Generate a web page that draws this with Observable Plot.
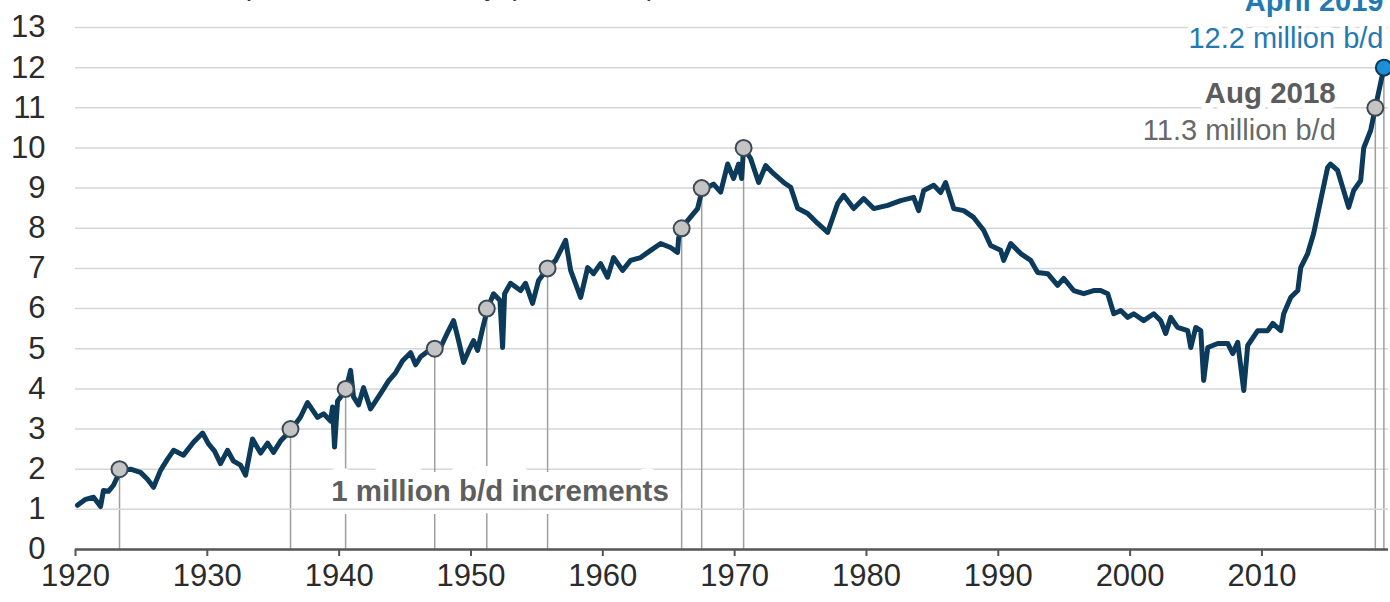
<!DOCTYPE html>
<html>
<head>
<meta charset="utf-8">
<script src="https://cdn.jsdelivr.net/npm/d3@7"></script>
<script src="https://cdn.jsdelivr.net/npm/@observablehq/plot@0.6"></script>
<style>
  html, body { margin: 0; padding: 0; background: #fff; }
  #chart { width: 1390px; height: 602px; overflow: hidden; }
  #chart svg { overflow: visible; }
</style>
</head>
<body>
<div id="chart"></div>
<script>
// ---- Data ----
const years = [
  1920.15, 1920.76, 1921.37, 1921.9, 1922.12, 1922.5, 1922.88, 1923.41, 1924.17, 1924.93,
  1925.46, 1925.92, 1926.45, 1926.98, 1927.44, 1928.19, 1928.95, 1929.64, 1930.09, 1930.55,
  1931.0, 1931.53, 1931.99, 1932.52, 1932.9, 1933.43, 1934.04, 1934.57, 1935.02, 1935.55,
  1936.31, 1937.07, 1937.6, 1938.36, 1938.82, 1939.35, 1939.5, 1939.65, 1939.88, 1940.49,
  1940.87, 1941.09, 1941.47, 1941.85, 1942.38, 1943.14, 1943.75, 1944.28, 1944.81, 1945.42,
  1945.8, 1946.18, 1946.78, 1947.31, 1947.69, 1948.22, 1948.68, 1949.06, 1949.44, 1949.82,
  1950.2, 1950.5, 1950.88, 1951.26, 1951.71, 1952.2, 1952.4, 1952.55, 1953.0, 1953.76,
  1954.14, 1954.67, 1955.13, 1955.81, 1956.42, 1957.18, 1957.56, 1958.32, 1958.85, 1959.3,
  1959.83, 1960.36, 1960.82, 1961.5, 1962.11, 1962.87, 1963.63, 1964.39, 1965.14, 1965.67,
  1965.75, 1965.98, 1966.43, 1967.19, 1967.57, 1967.95, 1968.4, 1968.94, 1969.47, 1969.92,
  1970.3, 1970.53, 1970.68, 1971.21, 1971.82, 1972.35, 1972.96, 1973.72, 1974.25, 1974.78,
  1975.54, 1976.3, 1977.06, 1977.82, 1978.27, 1979.03, 1979.79, 1980.55, 1981.61, 1982.59,
  1983.58, 1983.96, 1984.34, 1985.1, 1985.63, 1986.0, 1986.62, 1987.38, 1988.13, 1988.89,
  1989.42, 1990.18, 1990.41, 1990.94, 1991.7, 1992.46, 1992.99, 1993.75, 1994.5, 1994.96,
  1995.72, 1996.48, 1997.24, 1997.77, 1998.3, 1998.76, 1999.29, 1999.82, 2000.27, 2001.03,
  2001.79, 2002.32, 2002.7, 2003.08, 2003.6, 2004.37, 2004.6, 2004.98, 2005.36, 2005.58,
  2005.89, 2006.65, 2007.41, 2007.79, 2008.16, 2008.62, 2008.92, 2009.68, 2010.44, 2010.82,
  2011.43, 2011.65, 2012.19, 2012.72, 2012.94, 2013.47, 2013.92, 2014.45, 2014.98, 2015.2,
  2015.74, 2016.58, 2016.96, 2017.49, 2017.72, 2018.25, 2018.6, 2019.25
];
const production = [
  1.10, 1.25, 1.30, 1.07, 1.47, 1.45, 1.60, 1.97, 2.00, 1.92,
  1.75, 1.55, 1.97, 2.25, 2.47, 2.35, 2.67, 2.90, 2.63, 2.45,
  2.14, 2.47, 2.20, 2.10, 1.85, 2.75, 2.40, 2.65, 2.42, 2.70,
  2.96, 3.30, 3.66, 3.29, 3.38, 3.20, 3.55, 2.55, 3.70, 3.96,
  4.46, 3.80, 3.60, 4.03, 3.50, 3.88, 4.20, 4.40, 4.70, 4.90,
  4.60, 4.80, 4.95, 5.00, 5.03, 5.40, 5.70, 5.20, 4.66, 4.95,
  5.20, 4.96, 5.50, 6.00, 6.37, 6.20, 5.03, 6.37, 6.63, 6.45,
  6.63, 6.13, 6.70, 7.00, 7.20, 7.70, 6.95, 6.28, 7.02, 6.87,
  7.12, 6.78, 7.27, 6.95, 7.20, 7.27, 7.45, 7.62, 7.52, 7.40,
  7.75, 8.00, 8.19, 8.49, 9.00, 9.02, 9.10, 8.90, 9.60, 9.24,
  9.60, 9.24, 10.00, 9.74, 9.14, 9.56, 9.36, 9.14, 9.02, 8.50,
  8.37, 8.12, 7.90, 8.62, 8.82, 8.49, 8.74, 8.49, 8.57, 8.69,
  8.77, 8.44, 8.94, 9.07, 8.89, 9.14, 8.49, 8.44, 8.27, 7.95,
  7.57, 7.45, 7.20, 7.62, 7.37, 7.20, 6.90, 6.87, 6.58, 6.75,
  6.45, 6.37, 6.45, 6.45, 6.37, 5.87, 5.95, 5.78, 5.87, 5.70,
  5.87, 5.70, 5.38, 5.78, 5.53, 5.45, 5.03, 5.53, 5.45, 4.21,
  5.03, 5.13, 5.13, 4.88, 5.16, 3.96, 5.08, 5.45, 5.45, 5.63,
  5.45, 5.87, 6.28, 6.45, 7.02, 7.37, 7.87, 8.69, 9.51, 9.60,
  9.44, 8.52, 8.94, 9.19, 10.00, 10.44, 11.00, 12.00
];
// 1 million b/d milestones
const milestoneYears = [1923.34, 1936.31, 1940.49, 1947.25, 1951.2, 1955.81, 1965.98, 1967.5, 1970.68, 2018.6, 2019.25];
const milestoneValues = [2, 3, 4, 5, 6, 7, 8, 9, 10, 11, 12];
const xTicks = [1920, 1930, 1940, 1950, 1960, 1970, 1980, 1990, 2000, 2010];
const yTicks = [0, 1, 2, 3, 4, 5, 6, 7, 8, 9, 10, 11, 12, 13];

// Annotation texts
const titleText = ["U.S. crude oil production, monthly (million b/d)"];
const blueLabels = ["April 2019", "12.2 million b/d"];
const grayLabels = ["Aug 2018", "11.3 million b/d"];
const incrementsLabel = ["1 million b/d increments"];

// ---- Build tables ----
const series = years.map((y, i) => ({year: y, value: production[i]}));
const milestones = milestoneYears.map((y, i) => ({year: y, value: milestoneValues[i]}));
const grayDots = milestones.slice(0, -1);
const lastDot = milestones.slice(-1);

const FONT = "'Liberation Sans', Arial, Helvetica, sans-serif";
const halo = {stroke: "white", strokeWidth: 12, paintOrder: "stroke", strokeLinejoin: "round"};

const chart = Plot.plot({
  width: 1390,
  height: 602,
  marginLeft: 75,
  marginRight: 2,
  marginTop: 27,
  marginBottom: 53,
  style: {fontFamily: FONT, fontSize: "31px", color: "#2b2b2b", background: "#ffffff", overflow: "visible"},
  x: {domain: [1920, 2019.6], label: null},
  y: {domain: [0, 13], label: null},
  marks: [
    // horizontal gridlines (except the one under the increments label)
    Plot.ruleY(yTicks.filter(d => d !== 0 && d !== 1), {stroke: "#d6d6d6", strokeWidth: 1.5}),
    // drop lines from each milestone
    Plot.ruleX(milestones, {x: "year", y1: 0, y2: "value", stroke: "#9f9f9f", strokeWidth: 1.5}),
    // annotations with white backing
    Plot.text(titleText, {x: 1920, y: 13.67, dx: -12, dy: -6, text: d => d, textAnchor: "start", lineAnchor: "bottom",
      fontSize: 29, fill: "#3a3a3a", fontFamily: FONT}),
    Plot.text([blueLabels[0]], {x: 2019.6, y: 13.42, dx: -5, text: d => d, textAnchor: "end", lineAnchor: "bottom",
      fontSize: 29, fontWeight: "bold", fill: "#2479b0", fontFamily: FONT, ...halo}),
    Plot.text([blueLabels[1]], {x: 2019.6, y: 12.5, dx: -5, text: d => d, textAnchor: "end", lineAnchor: "bottom",
      fontSize: 29, fill: "#2479b0", fontFamily: FONT, ...halo, strokeWidth: 10}),
    Plot.text([grayLabels[0]], {x: 2015.6, y: 11.13, text: d => d, textAnchor: "end", lineAnchor: "bottom",
      fontSize: 29.5, fontWeight: "bold", fill: "#5c5c5c", fontFamily: FONT, ...halo}),
    Plot.text([grayLabels[1]], {x: 2015.6, y: 10.19, text: d => d, textAnchor: "end", lineAnchor: "bottom",
      fontSize: 29, fill: "#686868", fontFamily: FONT, ...halo, strokeWidth: 8}),
    Plot.text(incrementsLabel, {x: 1952.2, y: 1.22, text: d => d, textAnchor: "middle", lineAnchor: "bottom",
      fontSize: 29.5, fontWeight: "bold", fill: "#5e5e5e", fontFamily: FONT, ...halo, strokeWidth: 26}),
    Plot.ruleY([1], {stroke: "#d6d6d6", strokeWidth: 1.5}),
    // axes
    Plot.axisY({ticks: yTicks, tickSize: 0, tickPadding: 30, fontSize: 31, fill: "#2b2b2b", label: null}),
    Plot.axisX({ticks: xTicks, tickFormat: d => String(d), tickSize: 7, tickPadding: 7, fontSize: 31,
      fill: "#2b2b2b", stroke: "#555", strokeWidth: 2, label: null}),
    Plot.ruleY([0], {stroke: "#555555", strokeWidth: 2.5}),
    // production line
    Plot.line(series, {x: "year", y: "value", stroke: "#0b3a5a", strokeWidth: 5, strokeLinejoin: "round", strokeLinecap: "round"}),
    // milestone dots
    Plot.dot(grayDots, {x: "year", y: "value", r: 8, fill: "#c4c4c4", stroke: "#3b4a56", strokeWidth: 2}),
    Plot.dot(lastDot, {x: "year", y: "value", r: 8, fill: "#1d8fd6", stroke: "#0b3a5a", strokeWidth: 2})
  ]
});
document.getElementById("chart").appendChild(chart);
</script>
</body>
</html>
